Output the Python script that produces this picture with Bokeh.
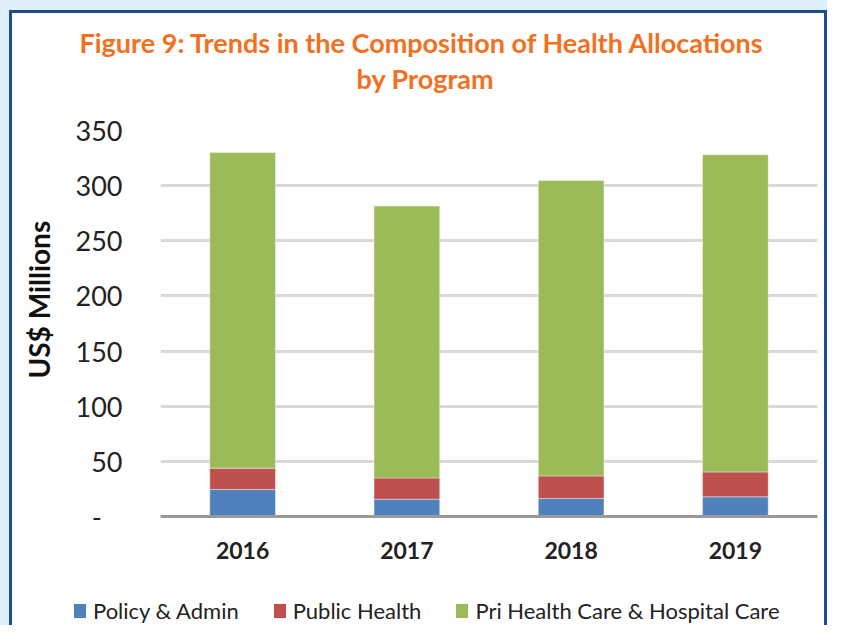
import html as htmlmod
from bokeh.plotting import figure
from bokeh.layouts import column
from bokeh.models import ColumnDataSource, FixedTicker, Title, Div
from bokeh.embed import file_html
from bokeh.resources import INLINE

years = ["2016", "2017", "2018", "2019"]
policy_admin = [24.5, 15.7, 16.3, 17.8]
public_health = [19.3, 19.3, 20.5, 22.6]
pri_hospital = [286.2, 246.5, 267.8, 287.6]
series_names = ["Policy & Admin", "Public Health", "Pri Health Care & Hospital Care"]
colors = ["#4f81bd", "#c0504d", "#9bbb59"]
y_ticks = [0, 50, 100, 150, 200, 250, 300, 350]

src = ColumnDataSource(dict(years=years, policy=policy_admin, public=public_health, pri=pri_hospital))

FONT = "Lato"
BORDER = "3px solid #1c4e8f"
LIGHT = "#dff0fa"
p = figure(x_range=years, y_range=(0, 350), frame_width=657, frame_height=386,
           output_backend="svg", toolbar_location=None,
           min_border_left=148, min_border_right=7, min_border_top=117, min_border_bottom=62)
p.outline_line_color = None
p.background_fill_color = "white"
p.border_fill_color = "white"

r = p.vbar_stack(["policy", "public", "pri"], x="years", width=0.4, source=src,
                 fill_color=colors, line_color="white", line_alpha=0.4, line_width=1)

p.xgrid.grid_line_color = None
p.ygrid.grid_line_color = "#d9d9d9"
p.ygrid.grid_line_width = 3
p.yaxis.ticker = FixedTicker(ticks=y_ticks)
p.yaxis.major_label_overrides = {0: "-\u00a0\u00a0\u00a0"}
p.yaxis.axis_line_color = None
p.yaxis.major_tick_line_color = None
p.yaxis.major_tick_out = 0
p.yaxis.major_tick_in = 0
p.yaxis.minor_tick_line_color = None
p.yaxis.major_label_text_font = FONT
p.yaxis.major_label_text_font_size = "27px"
p.yaxis.major_label_text_color = "#222222"
p.yaxis.major_label_standoff = 38
p.yaxis.axis_label = "\u00a0" * 7 + "US$ Millions"
p.yaxis.axis_label_text_font = FONT
p.yaxis.axis_label_text_font_style = "bold"
p.yaxis.axis_label_text_font_size = "28px"
p.yaxis.axis_label_text_color = "#111111"
p.yaxis.axis_label_standoff = 17

p.xaxis.axis_line_color = "#999999"
p.xaxis.axis_line_width = 3
p.xaxis.major_tick_line_color = None
p.xaxis.major_tick_out = 0
p.xaxis.major_tick_in = 0
p.xaxis.minor_tick_line_color = None
p.xaxis.major_label_text_font = FONT
p.xaxis.major_label_text_font_style = "bold"
p.xaxis.major_label_text_font_size = "23px"
p.xaxis.major_label_text_color = "#222222"
p.xaxis.major_label_standoff = 25

TCOL = "#f37021"
p.title = Title(text="Figure 9: Trends in the Composition of Health Allocations",
                align="left", offset=-81, standoff=2,
                text_font=FONT, text_font_style="bold", text_font_size="27px", text_color=TCOL)
p.add_layout(Title(text="\u00a0", standoff=23, text_font_size="10px"), "above")
p.add_layout(Title(text="by Program", align="left", offset=196, standoff=0,
                   text_font=FONT, text_font_style="bold", text_font_size="27px",
                   text_color=TCOL), "above")

# legend row
items_html = "".join(
    '<span style="display:inline-flex;align-items:center;margin-right:35px">'
    f'<span style="display:inline-block;width:12px;height:14px;background:{c};margin-right:7px"></span>'
    f'{htmlmod.escape(n)}</span>'
    for n, c in zip(series_names, colors))
legend_div = Div(text=(f'<div style="font-family:Lato;font-size:22px;color:#222222;'
                       f'padding:20px 0 0 62px;line-height:24px;white-space:nowrap">{items_html}</div>'),
                 width=812, height=47, margin=0)

inner = column(p, legend_div, spacing=0,
               styles={"border-left": BORDER, "border-top": BORDER, "border-right": BORDER,
                       "background-color": "white"})
layout = column(inner, spacing=0,
                styles={"border-left": f"9px solid {LIGHT}", "border-top": f"10px solid {LIGHT}"})

html = file_html(layout, INLINE)
open("out.html", "w").write(html)
